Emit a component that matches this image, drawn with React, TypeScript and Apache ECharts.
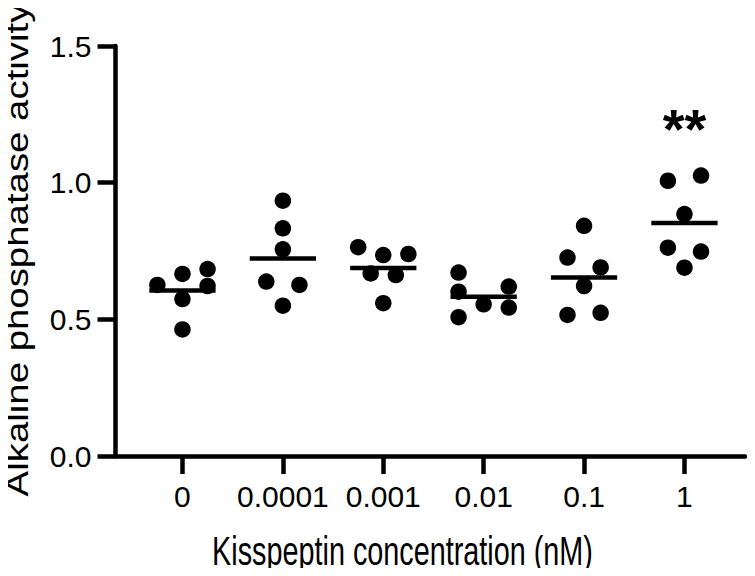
import React, { useEffect, useRef } from "react";
import * as echarts from "echarts";

const categories = ["0", "0.0001", "0.001", "0.01", "0.1", "1"];
const yTicks = [0, 0.5, 1.0, 1.5];
const xTitle = "Kisspeptin concentration (nM)";
const yTitle = "Alkaline phosphatase activity";

// activity values per concentration group
const g0 = [0.626, 0.666, 0.684, 0.622, 0.574, 0.463];
const g1 = [0.934, 0.833, 0.756, 0.638, 0.626, 0.55];
const g2 = [0.764, 0.735, 0.739, 0.668, 0.662, 0.559];
const g3 = [0.671, 0.601, 0.62, 0.555, 0.543, 0.508];
const g4 = [0.842, 0.726, 0.69, 0.622, 0.516, 0.524];
const g5 = [1.007, 1.026, 0.885, 0.762, 0.748, 0.689];
const groups = [g0, g1, g2, g3, g4, g5];

// horizontal scatter offsets (category units) of each point
const j0 = [-0.25, 0, 0.25, 0.25, 0, 0];
const j1 = [0, 0, 0, -0.165, 0.165, 0];
const j2 = [-0.25, 0, 0.25, -0.125, 0.125, 0];
const j3 = [-0.25, -0.25, 0.25, 0, 0.25, -0.25];
const j4 = [0, -0.165, 0.165, 0, -0.165, 0.165];
const j5 = [-0.165, 0.165, 0, -0.165, 0.165, 0];
const jitters = [j0, j1, j2, j3, j4, j5];

const significance = [{ group: 5, text: "**", y: 1.2 }];

const FONT = "Liberation Sans, Arial, sans-serif";

export default function App() {
  const ref = useRef<HTMLDivElement>(null);
  useEffect(() => {
    if (!ref.current) return;
    const chart = echarts.init(ref.current, null, { renderer: "svg" });
    const points: number[][] = [];
    groups.forEach((g, i) => g.forEach((v, k) => points.push([i + jitters[i][k], v])));
    const means = groups.map((g, i) => [i, g.reduce((a, b) => a + b, 0) / g.length]);
    chart.setOption({
      animation: false,
      grid: { left: 115.5, right: 10, top: 46, bottom: 120, containLabel: false, outerBoundsMode: "none" },
      graphic: [
        {
          type: "text",
          x: 402.5,
          y: 551,
          scaleY: 1.38,
          style: {
            text: xTitle,
            font: `28.8px ${FONT}`,
            fill: "#000",
            align: "center",
            verticalAlign: "middle",
          },
        },
        {
          type: "text",
          x: 17,
          y: 250,
          rotation: Math.PI / 2,
          scaleX: 1.2,
          style: {
            text: yTitle,
            font: `32px ${FONT}`,
            fill: "#000",
            align: "center",
            verticalAlign: "middle",
          },
        },
      ],
      xAxis: {
        type: "value",
        min: -0.667,
        max: 5.603,
        axisLine: { onZero: false, lineStyle: { color: "#000", width: 4.5 } },
        axisTick: {
          customValues: categories.map((_, i) => i),
          length: 18,
          lineStyle: { color: "#000", width: 4.5 },
        },
        axisLabel: {
          customValues: categories.map((_, i) => i),
          formatter: (v: number) => categories[Math.round(v)] ?? "",
          margin: 25,
          fontFamily: FONT,
          fontSize: 30,
          color: "#000",
        },
        splitLine: { show: false },
      },
      yAxis: {
        type: "value",
        min: 0,
        max: 1.5,
        interval: 0.5,
        axisLine: { show: true, onZero: false, lineStyle: { color: "#000", width: 4.5 } },
        axisTick: { show: true, length: 18, lineStyle: { color: "#000", width: 4.5 } },
        axisLabel: {
          formatter: (v: number) => (yTicks.includes(v) ? v.toFixed(1) : ""),
          margin: 24,
          fontFamily: FONT,
          fontSize: 30,
          color: "#000",
        },
        splitLine: { show: false },
      },
      series: [
        {
          type: "scatter",
          data: points,
          symbol: "circle",
          symbolSize: 16.5,
          itemStyle: { color: "#000", opacity: 1 },
          z: 3,
        },
        {
          type: "custom",
          data: means,
          z: 4,
          renderItem: (params: any, api: any) => {
            const x = api.value(0);
            const y = api.value(1);
            const p1 = api.coord([x - 0.33, y]);
            const p2 = api.coord([x + 0.33, y]);
            return {
              type: "line",
              shape: { x1: p1[0], y1: p1[1], x2: p2[0], y2: p2[1] },
              style: { stroke: "#000", lineWidth: 4.5 },
            };
          },
        },
        {
          type: "scatter",
          data: significance.map((s) => [s.group, s.y]),
          symbolSize: 1,
          itemStyle: { color: "rgba(0,0,0,0)", opacity: 1 },
          label: {
            show: true,
            position: "inside",
            formatter: (p: any) => significance[p.dataIndex].text,
            fontFamily: FONT,
            fontSize: 56,
            fontWeight: "bold",
            color: "#000",
            opacity: 1,
          },
        },
      ],
    });
    return () => chart.dispose();
  }, []);
  return <div ref={ref} style={{ width: 755, height: 576, margin: -8 }} />;
}
